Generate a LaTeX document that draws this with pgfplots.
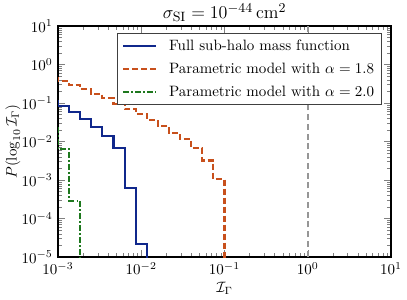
\documentclass[border=0pt]{standalone}
\usepackage{pgfplots}
\pgfplotsset{compat=1.18}
\definecolor{cblue}{RGB}{16,40,140}
\definecolor{corange}{RGB}{200,80,28}
\definecolor{cgreen}{RGB}{30,120,30}
\definecolor{cgray}{RGB}{150,150,150}
\begin{document}
\begin{tikzpicture}
\begin{axis}[
  name=ax,
  scale only axis,
  width=222pt, height=154pt,
  xmode=log, ymode=log,
  xmin=1e-3, xmax=10, ymin=1e-5, ymax=10,
  xtick={1e-3,1e-2,1e-1,1,10},
  ytick={1e-5,1e-4,1e-3,1e-2,1e-1,1,10},
  tick align=inside,
  major tick length=5pt, minor tick length=2.5pt,
  axis line style={line width=0.8pt},
  title={\fontsize{13}{15}\selectfont $\sigma_{\rm SI} = 10^{-44}\,{\rm cm}^2$},
  title style={inner sep=0pt, yshift=-3.5pt},
  xlabel={$\mathcal{I}_\Gamma$},
  ylabel={$P(\log_{10}\mathcal{I}_\Gamma)$},
  xlabel style={yshift=2pt},
  ylabel style={yshift=-6pt},
  legend style={at={(1,1)}, anchor=north east, xshift=-6pt, yshift=-4.7pt, draw=black!75, line width=0.6pt, cells={anchor=west}, inner xsep=3pt, inner ysep=2pt, row sep=3pt, font=\fontsize{10}{12}\selectfont},
  legend cell align=left,
  legend image code/.code={\draw[#1] (0pt,0pt) -- (22pt,0pt); \path (28pt,0pt);},
]
\addplot[const plot, cblue, line width=1.45pt] coordinates {
(7.356e-4,0.11) (1e-3,0.084) (1.3594e-3,0.057) (1.8478e-3,0.038) (2.5119e-3,0.024) (3.4146e-3,0.0139) (4.6416e-3,0.0067) (6.3096e-3,6.1e-4) (8.577e-3,2.2e-5) (1.16591e-2,1e-7)
};
\addlegendentry{Full sub-halo mass function}
\addplot[const plot, corange, line width=1.45pt, dash pattern=on 4pt off 2pt] coordinates {
(7.356e-4,0.44) (1e-3,0.37) (1.3594e-3,0.29) (1.8478e-3,0.227) (2.5119e-3,0.174) (3.4146e-3,0.135) (4.6416e-3,0.096) (6.3096e-3,0.071) (8.577e-3,0.051) (1.16591e-2,0.036) (1.58489e-2,0.0253) (2.15443e-2,0.017) (2.92864e-2,0.0114) (3.98107e-2,0.0067) (5.4117e-2,0.0032) (7.35642e-2,0.00106) (0.1,1e-7)
};
\addlegendentry{Parametric model with $\alpha = 1.8$}
\addplot[const plot, cgreen, line width=1.45pt, dash pattern=on 4pt off 1.5pt on 1pt off 1.5pt] coordinates {
(7.356e-4,0.025) (1e-3,0.0063) (1.3594e-3,2.9e-4) (1.8478e-3,1e-7)
};
\addlegendentry{Parametric model with $\alpha = 2.0$}
\addplot[cgray, line width=1.2pt, dash pattern=on 4pt off 2.5pt, forget plot] coordinates {(1,1e-6) (1,100)};
\end{axis}
\pgfresetboundingbox
\path ([shift={(-38.67pt,-28pt)}]ax.south west) rectangle ([shift={(10.67pt,17.33pt)}]ax.north east);
\end{tikzpicture}
\end{document}
